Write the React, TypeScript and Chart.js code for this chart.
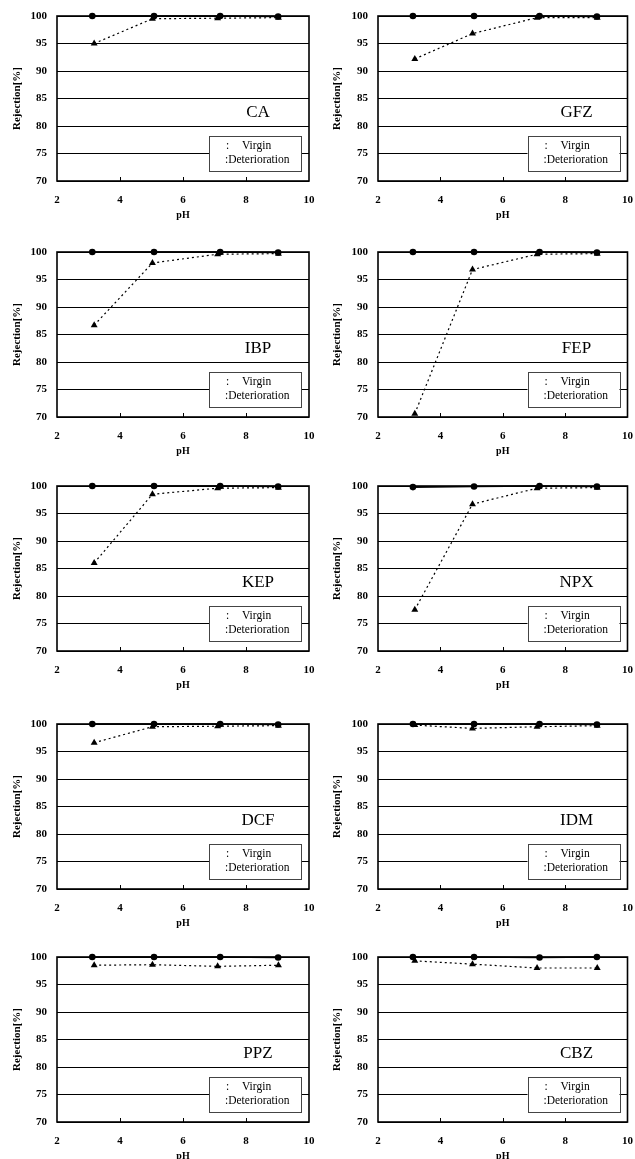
import React, { useEffect, useRef } from 'react';
import { Chart, registerables } from 'chart.js';

Chart.register(...registerables);

// ---- data ----
const drugNames = ['CA', 'GFZ', 'IBP', 'FEP', 'KEP', 'NPX', 'DCF', 'IDM', 'PPZ', 'CBZ'];
const seriesNames = ['Virgin', 'Deterioration'];
const xTickValues = [2, 4, 6, 8, 10];
const yTickValues = [70, 75, 80, 85, 90, 95, 100];

const virginPH = [3.12, 5.08, 7.18, 9.02];
const deteriorationPH = [3.18, 5.03, 7.1, 9.03];

const virginCA = [100, 100, 100, 99.9];
const deteriorationCA = [95.0, 99.5, 99.6, 99.7];
const virginGFZ = [100, 100, 100, 99.9];
const deteriorationGFZ = [92.2, 96.8, 99.7, 99.7];
const virginIBP = [100, 100, 100, 99.9];
const deteriorationIBP = [86.7, 98.0, 99.6, 99.7];
const virginFEP = [100, 100, 100, 99.9];
const deteriorationFEP = [70.6, 96.8, 99.6, 99.7];
const virginKEP = [100, 100, 100, 99.9];
const deteriorationKEP = [86.0, 98.5, 99.6, 99.7];
const virginNPX = [99.8, 99.9, 100, 99.9];
const deteriorationNPX = [77.5, 96.7, 99.6, 99.7];
const virginDCF = [100, 100, 100, 99.9];
const deteriorationDCF = [96.6, 99.5, 99.6, 99.7];
const virginIDM = [100, 100, 100, 99.9];
const deteriorationIDM = [99.8, 99.2, 99.5, 99.7];
const virginPPZ = [100, 100, 100, 99.9];
const deteriorationPPZ = [98.5, 98.6, 98.3, 98.5];
const virginCBZ = [100, 100, 99.9, 100];
const deteriorationCBZ = [99.3, 98.7, 98.0, 98.0];

const virginSeries = [virginCA, virginGFZ, virginIBP, virginFEP, virginKEP, virginNPX, virginDCF, virginIDM, virginPPZ, virginCBZ];
const deteriorationSeries = [deteriorationCA, deteriorationGFZ, deteriorationIBP, deteriorationFEP, deteriorationKEP, deteriorationNPX, deteriorationDCF, deteriorationIDM, deteriorationPPZ, deteriorationCBZ];

// ---- layout ----
const rowPlotTops = [16, 252, 486, 724, 957];
const PLOT_H = 165;
const CANVAS_H = 220;
const TOP_PAD = 10;
const columns = [
  { left: 0, width: 317, yAxisWidth: 57, padRight: 8 },
  { left: 320, width: 315, yAxisWidth: 58, padRight: 6 },
];

const SERIF = '"Liberation Serif", "Times New Roman", serif';
const CLEAR = 'rgba(0,0,0,0)';

const decorPlugin = {
  id: 'decor',
  beforeDatasetsDraw(chart: any) {
    const { ctx, chartArea: a, scales } = chart;
    const x = scales.x;
    ctx.save();
    ctx.strokeStyle = '#000';
    ctx.lineWidth = 1;
    xTickValues.forEach((v) => {
      if (v <= x.min || v >= x.max) return;
      const px = Math.round(x.getPixelForValue(v)) + 0.5;
      ctx.beginPath();
      ctx.moveTo(px, a.bottom);
      ctx.lineTo(px, a.bottom - 4);
      ctx.stroke();
    });
    ctx.lineWidth = 1.6;
    ctx.strokeRect(a.left, a.top, a.right - a.left, a.bottom - a.top);
    ctx.restore();
  },
  afterDatasetsDraw(chart: any, _args: any, opts: any) {
    const { ctx, chartArea: a } = chart;
    ctx.save();
    // panel name
    ctx.fillStyle = '#000';
    ctx.font = `17px ${SERIF}`;
    ctx.textAlign = 'center';
    ctx.textBaseline = 'middle';
    ctx.fillText(opts.name, a.right - 51, a.top + 97);
    // legend box
    const bw = 92;
    const bh = 35;
    const bl = a.right - 100;
    const bt = a.bottom - 45;
    ctx.fillStyle = '#fff';
    ctx.fillRect(bl, bt, bw, bh);
    ctx.strokeStyle = '#444';
    ctx.lineWidth = 1;
    ctx.strokeRect(Math.round(bl) + 0.5, Math.round(bt) + 0.5, bw, bh);
    ctx.fillStyle = '#000';
    ctx.font = `11.5px ${SERIF}`;
    ctx.textAlign = 'left';
    ctx.fillText(':', bl + 17, bt + 10);
    ctx.fillText(opts.labels[0], bl + 33, bt + 10);
    ctx.fillText(':' + opts.labels[1], bl + 16, bt + 24);
    ctx.restore();
  },
};

function Panel({ index }: { index: number }) {
  const ref = useRef<HTMLCanvasElement | null>(null);
  const col = columns[index % 2];
  const row = Math.floor(index / 2);
  const top = rowPlotTops[row] - TOP_PAD;

  useEffect(() => {
    if (!ref.current) return;
    const virgin = virginSeries[index].map((y, i) => ({ x: virginPH[i], y }));
    const det = deteriorationSeries[index].map((y, i) => ({ x: deteriorationPH[i], y }));
    const chart = new Chart(ref.current, {
      type: 'line',
      data: {
        datasets: [
          {
            label: seriesNames[0],
            data: virgin,
            borderColor: '#000',
            backgroundColor: '#000',
            borderWidth: 1.6,
            pointStyle: 'circle',
            pointRadius: 3.3,
            pointBorderWidth: 0,
            clip: false as any,
          },
          {
            label: seriesNames[1],
            data: det,
            borderColor: '#000',
            backgroundColor: '#000',
            borderWidth: 1.2,
            borderDash: [2, 3],
            pointStyle: 'triangle',
            pointRadius: 4,
            pointBorderWidth: 0,
            clip: false as any,
          },
        ],
      },
      options: {
        animation: false,
        responsive: false,
        maintainAspectRatio: false,
        layout: { padding: { top: TOP_PAD, left: 0, right: col.padRight, bottom: 0 } },
        plugins: {
          legend: { display: false },
          tooltip: { enabled: false },
          decor: { name: drugNames[index], labels: seriesNames },
        } as any,
        scales: {
          x: {
            type: 'linear',
            min: xTickValues[0],
            max: xTickValues[xTickValues.length - 1],
            afterBuildTicks: (s: any) => {
              s.ticks = xTickValues.map((v) => ({ value: v }));
            },
            afterFit: (s: any) => {
              s.height = CANVAS_H - TOP_PAD - PLOT_H;
            },
            grid: { display: true, drawOnChartArea: false, drawTicks: true, tickLength: 11, tickColor: CLEAR, color: CLEAR },
            border: { display: false },
            ticks: {
              color: '#000',
              padding: 2,
              font: { family: SERIF, size: 11, weight: 'bold' },
            },
            title: {
              display: true,
              text: 'pH',
              color: '#000',
              padding: { top: 0, bottom: 5 },
              font: { family: SERIF, size: 10, weight: 'bold' },
            },
          },
          y: {
            type: 'linear',
            min: yTickValues[0],
            max: yTickValues[yTickValues.length - 1],
            afterBuildTicks: (s: any) => {
              s.ticks = yTickValues.map((v) => ({ value: v }));
            },
            afterFit: (s: any) => {
              s.width = col.yAxisWidth;
            },
            grid: { color: '#000', lineWidth: 1, drawTicks: true, tickLength: 8, tickColor: CLEAR },
            border: { display: false },
            ticks: {
              color: '#000',
              padding: 2,
              font: { family: SERIF, size: 11, weight: 'bold' },
            },
            title: {
              display: true,
              text: 'Rejection[%]',
              color: '#000',
              padding: { top: 11, bottom: 0 },
              font: { family: SERIF, size: 11, weight: 'bold' },
            },
          },
        },
      } as any,
      plugins: [decorPlugin as any],
    });
    return () => chart.destroy();
  }, [index]);

  return (
    <canvas
      ref={ref}
      width={col.width}
      height={CANVAS_H}
      style={{ position: 'absolute', left: col.left, top, width: col.width, height: CANVAS_H }}
    />
  );
}

export default function App() {
  return (
    <div style={{ position: 'absolute', left: 0, top: 0, width: 635, height: 1159, background: '#fff', overflow: 'hidden' }}>
      {drugNames.map((_, i) => (
        <Panel key={i} index={i} />
      ))}
    </div>
  );
}
